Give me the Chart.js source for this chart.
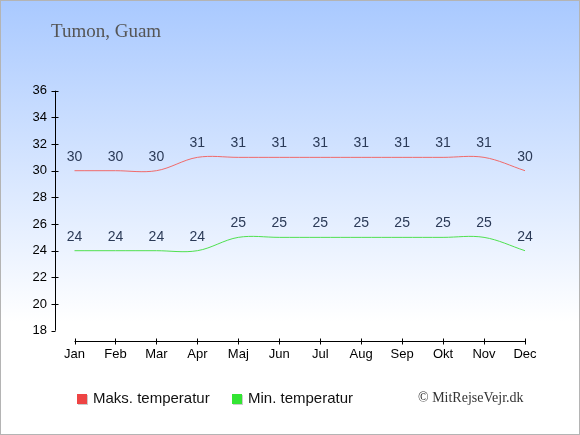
<!DOCTYPE html>
<html>
<head>
<meta charset="utf-8">
<script src="https://cdn.jsdelivr.net/npm/chart.js@4"></script>
<style>
  html, body { margin: 0; padding: 0; }
  #wrap { width: 580px; height: 435px; position: relative; }
  canvas { display: block; }
</style>
</head>
<body>
<div id="wrap"><canvas id="chart" width="580" height="435"></canvas></div>
<script>
const maaneder = ["Jan", "Feb", "Mar", "Apr", "Maj", "Jun", "Jul", "Aug", "Sep", "Okt", "Nov", "Dec"];
const maksTemp = [30, 30, 30, 31, 31, 31, 31, 31, 31, 31, 31, 30];
const minTemp = [24, 24, 24, 24, 25, 25, 25, 25, 25, 25, 25, 24];
const yTicks = [18, 20, 22, 24, 26, 28, 30, 32, 34, 36];
const titel = "Tumon, Guam";
const kilde = "\u00A9 MitRejseVejr.dk";

const sans = "'Liberation Sans', Arial, sans-serif";
const serif = "'Liberation Serif', 'Times New Roman', serif";

// baggrund, akser, etiketter og forklaring tegnes her
const tegnPlugin = {
  id: "tegn",
  beforeDraw(chart) {
    const c = chart.ctx;
    const g = c.createLinearGradient(0, 0, 0, chart.height);
    g.addColorStop(0, "#a9c9ff");
    g.addColorStop(0.74, "#ffffff");
    g.addColorStop(1, "#ffffff");
    c.save();
    c.fillStyle = g;
    c.fillRect(0, 0, chart.width, chart.height);
    c.strokeStyle = "#b4b4b4";
    c.lineWidth = 1;
    c.strokeRect(0.5, 0.5, chart.width - 1, chart.height - 1);

    c.fillStyle = "#555555";
    c.font = "19px " + serif;
    c.textBaseline = "middle";
    c.textAlign = "left";
    c.fillText(titel, 51, 32);

    const x = chart.scales.x, y = chart.scales.y;
    const ax = 55.5;
    c.strokeStyle = "#000";
    c.beginPath();
    c.moveTo(ax, y.getPixelForValue(36));
    c.lineTo(ax, y.getPixelForValue(18));
    yTicks.forEach(v => {
      const py = Math.round(y.getPixelForValue(v)) + 0.5;
      c.moveTo(ax - 4, py);
      c.lineTo(ax + (v === 18 ? 0 : 3), py);
    });
    const ay = 341.5;
    c.moveTo(x.getPixelForValue(0), ay);
    c.lineTo(x.getPixelForValue(11), ay);
    maaneder.forEach((m, i) => {
      const px = Math.round(x.getPixelForValue(i)) + 0.5;
      c.moveTo(px, ay - 3);
      c.lineTo(px, ay + 3);
    });
    c.stroke();

    c.fillStyle = "#000";
    c.font = "13px " + sans;
    c.textAlign = "right";
    yTicks.forEach(v => c.fillText(String(v), 47, y.getPixelForValue(v)));
    c.textAlign = "center";
    maaneder.forEach((m, i) => c.fillText(m, x.getPixelForValue(i), 354));

    // forklaring
    const poster = [
      { tekst: "Maks. temperatur", farve: "#ee4444", x: 77 },
      { tekst: "Min. temperatur", farve: "#33e533", x: 232 }
    ];
    c.font = "15px " + sans;
    c.textAlign = "left";
    poster.forEach(p => {
      c.fillStyle = "#cccccc";
      c.fillRect(p.x + 1, 395, 10, 10);
      c.fillStyle = p.farve;
      c.fillRect(p.x, 394, 10, 10);
      c.fillStyle = "#111";
      c.fillText(p.tekst, p.x + 16, 399);
    });
    c.fillStyle = "#333";
    c.font = "14px " + serif;
    c.fillText(kilde, 418, 398);
    c.restore();
  },
  afterDatasetsDraw(chart) {
    const c = chart.ctx;
    c.save();
    c.fillStyle = "#2b3a57";
    c.font = "14px " + sans;
    c.textAlign = "center";
    c.textBaseline = "middle";
    chart.data.datasets.forEach((ds, di) => {
      chart.getDatasetMeta(di).data.forEach((pt, i) => {
        c.fillText(String(ds.data[i]), pt.x, pt.y - 14);
      });
    });
    c.restore();
  }
};

new Chart(document.getElementById("chart"), {
  type: "line",
  data: {
    labels: maaneder,
    datasets: [
      { label: "Maks. temperatur", data: maksTemp, borderColor: "#f06a6a", borderWidth: 1, pointRadius: 0, tension: 0.35, fill: false },
      { label: "Min. temperatur", data: minTemp, borderColor: "#4fe04f", borderWidth: 1, pointRadius: 0, tension: 0.35, fill: false }
    ]
  },
  options: {
    responsive: false,
    devicePixelRatio: 1,
    animation: false,
    layout: { padding: { left: 74.5, right: 55, top: 90.7, bottom: 104.3 } },
    plugins: { legend: { display: false }, tooltip: { enabled: false } },
    scales: {
      x: { display: false, offset: false },
      y: { display: false, min: 18, max: 36 }
    }
  },
  plugins: [tegnPlugin]
});
</script>
</body>
</html>
